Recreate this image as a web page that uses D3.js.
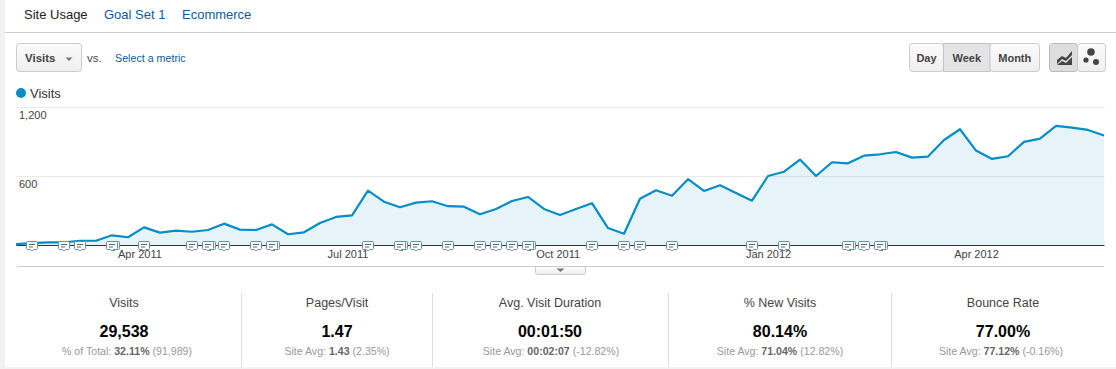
<!DOCTYPE html>
<html>
<head>
<meta charset="utf-8">
<script src="https://cdn.jsdelivr.net/npm/d3@7"></script>
<style>
  html, body { margin: 0; padding: 0; background: #fff; }
  svg { display: block; }
  text { font-family: "Liberation Sans", Arial, sans-serif; }
</style>
</head>
<body>
<div id="chart"></div>
<script>
"use strict";

const visits = [
  8, 17, 23, 23, 37, 37, 84, 67, 153, 107, 124, 115, 130, 185, 133, 130, 179,
  93, 110, 191, 243, 257, 471, 375, 327, 367, 379, 336, 332, 266, 312, 381, 416,
  312, 260, 312, 362, 147, 98, 401, 474, 427, 570, 468, 518, 451, 384, 598, 635,
  740, 598, 717, 708, 774, 786, 806, 757, 766, 910, 1003, 818, 746, 769, 893,
  922, 1032, 1017, 997, 948,
];

const firstWeek = "2011-02-06";
const yTicks = [600, 1200];
const xTickDates = ["2011-04-01", "2011-07-01", "2011-10-01", "2012-01-01", "2012-04-01"];

// weeks (index into visits) that have an annotation bubble
const noteWeeks = [1, 3, 4, 6, 8, 11, 12, 13, 15, 16, 22, 24, 25, 27, 29, 30, 31, 32, 36, 38, 39, 41, 46, 48, 52, 53, 54];
// these have a second note stacked behind
const stackedWeeks = [6, 12, 16, 24, 32, 52, 54];

const tabs = ["Site Usage", "Goal Set 1", "Ecommerce"];
const periods = ["Day", "Week", "Month"];

const metricNames = ["Visits", "Pages/Visit", "Avg. Visit Duration", "% New Visits", "Bounce Rate"];
const metricValues = ["29,538", "1.47", "00:01:50", "80.14%", "77.00%"];
const metricPrefix = ["% of Total: ", "Site Avg: ", "Site Avg: ", "Site Avg: ", "Site Avg: "];
const metricBold = ["32.11%", "1.43", "00:02:07", "71.04%", "77.12%"];
const metricSuffix = [" (91,989)", " (2.35%)", " (-12.82%)", " (12.82%)", " (-0.16%)"];

const width = 1116;
const height = 369;
const BLUE = "#058dc7";
const LINK = "#0b5d9e";

const svg = d3.select("#chart").append("svg").attr("width", width).attr("height", height);

const defs = svg.append("defs");
const grad = defs.append("linearGradient").attr("id", "btn").attr("x1", 0).attr("x2", 0).attr("y1", 0).attr("y2", 1);
grad.append("stop").attr("offset", "0%").attr("stop-color", "#fbfbfb");
grad.append("stop").attr("offset", "100%").attr("stop-color", "#efefef");

// page frame
svg.append("rect").attr("width", 5).attr("height", height).attr("fill", "#f2f2f2");
svg.append("rect").attr("x", 5).attr("y", 367).attr("width", width - 5).attr("height", 2).attr("fill", "#f2f2f2");
hline(5, width, 32.5, "#ccc");

function hline(x1, x2, y, color) {
  return svg.append("line").attr("x1", x1).attr("x2", x2).attr("y1", y).attr("y2", y).attr("stroke", color);
}

// tabs
const tabX = [24, 104, 182];
svg.selectAll(".tab").data(tabs).enter().append("text")
  .attr("class", "tab")
  .attr("x", (d, i) => tabX[i])
  .attr("y", 19)
  .attr("font-size", 13)
  .attr("fill", (d, i) => (i === 0 ? "#222" : LINK))
  .text((d) => d);

// metric dropdown
svg.append("rect").attr("x", 16.5).attr("y", 43.5).attr("width", 65).attr("height", 28).attr("rx", 3)
  .attr("fill", "url(#btn)").attr("stroke", "#ccc");
svg.append("text").attr("x", 25).attr("y", 62).attr("font-size", 11.5).attr("font-weight", "bold").attr("fill", "#444").text("Visits");
svg.append("path").attr("d", "M65.5,57.5h7l-3.5,3.5z").attr("fill", "#777");
svg.append("text").attr("x", 87).attr("y", 62).attr("font-size", 11.5).attr("fill", "#444").text("vs.");
svg.append("text").attr("x", 115).attr("y", 62).attr("font-size", 10.7).attr("fill", LINK).text("Select a metric");

// period buttons
const periodEdges = [909.5, 943.5, 990, 1039.5];
periods.forEach((p, i) => {
  const x0 = periodEdges[i];
  const x1 = periodEdges[i + 1];
  svg.append("rect").attr("x", x0).attr("y", 43.5).attr("width", x1 - x0).attr("height", 28)
    .attr("rx", i === 1 ? 0 : 3)
    .attr("fill", i === 1 ? "#e4e4e4" : "url(#btn)").attr("stroke", i === 1 ? "#c4c4c4" : "#ccc");
  svg.append("text").attr("x", (x0 + x1) / 2).attr("y", 62).attr("text-anchor", "middle")
    .attr("font-size", 11).attr("font-weight", "bold").attr("fill", "#444").text(p);
});

// chart type buttons
svg.append("rect").attr("x", 1049.5).attr("y", 43.5).attr("width", 28).attr("height", 28).attr("rx", 3)
  .attr("fill", "#dedede").attr("stroke", "#bbb");
svg.append("rect").attr("x", 1077.5).attr("y", 43.5).attr("width", 28).attr("height", 28).attr("rx", 3)
  .attr("fill", "url(#btn)").attr("stroke", "#ccc");
svg.append("path").attr("d", "M1057,60l5,-4l4,2l6,-7v4l-6,6l-4,-2l-5,5z").attr("fill", "#444");
svg.append("path").attr("d", "M1057,65l5,-4l4,2l6,-6v8h-15z").attr("fill", "#444");
svg.append("circle").attr("cx", 1091).attr("cy", 52).attr("r", 3.8).attr("fill", "#444");
svg.append("circle").attr("cx", 1086).attr("cy", 60).attr("r", 2.6).attr("fill", "#444");
svg.append("circle").attr("cx", 1096).attr("cy", 62).attr("r", 3).attr("fill", "#444");

// legend
svg.append("circle").attr("cx", 21).attr("cy", 93).attr("r", 5).attr("fill", BLUE);
svg.append("text").attr("x", 30).attr("y", 97.5).attr("font-size", 13).attr("fill", "#333").text("Visits");

// scales
const parseDay = d3.utcParse("%Y-%m-%d");
const start = parseDay(firstWeek);
const weeks = visits.map((v, i) => d3.utcDay.offset(start, i * 7));

const x = d3.scaleUtc().domain([weeks[0], weeks[weeks.length - 1]]).range([16, 1104]);
const y = d3.scaleLinear().domain([0, 1200]).range([245, 106.5]);

// gridlines and y labels
svg.append("g").selectAll("line").data(yTicks).enter().append("line")
  .attr("x1", 16).attr("x2", 1105)
  .attr("y1", (d) => Math.round(y(d)) + 0.5).attr("y2", (d) => Math.round(y(d)) + 0.5)
  .attr("stroke", "#eaeaea");
svg.append("g").selectAll("text").data(yTicks).enter().append("text")
  .attr("x", 19)
  .attr("y", (d) => y(d) + 12)
  .attr("font-size", 11)
  .attr("fill", "#444")
  .text(d3.format(","));

// area and line
const area = d3.area().x((d, i) => x(weeks[i])).y0(y(0)).y1((d) => y(d));
const line = d3.line().x((d, i) => x(weeks[i])).y((d) => y(d));

svg.append("path").datum(visits).attr("d", area).attr("fill", BLUE).attr("fill-opacity", 0.1);

// x axis
const xAxis = svg.append("g")
  .attr("transform", "translate(0,245)")
  .call(d3.axisBottom(x).tickValues(xTickDates.map(parseDay)).tickFormat(d3.utcFormat("%b %Y")).tickSize(0).tickPadding(5));
xAxis.select(".domain").attr("stroke", "#333");
xAxis.selectAll("text").attr("font-family", '"Liberation Sans", Arial, sans-serif').attr("font-size", 11).attr("fill", "#444");

svg.append("path").datum(visits).attr("d", line).attr("fill", "none").attr("stroke", BLUE)
  .attr("stroke-width", 2.2).attr("stroke-linejoin", "round");

// annotation bubbles
function drawNote(g) {
  g.append("path")
    .attr("d", "M-5.5,-3.5a1,1 0 0 1 1,-1h9a1,1 0 0 1 1,1v6a1,1 0 0 1 -1,1h-3l-1.5,1.5l-1.5,-1.5h-3a1,1 0 0 1 -1,-1z")
    .attr("fill", "#fff").attr("stroke", "#5f8db3");
  g.append("path").attr("d", "M-3,-1.5h6M-3,1h4").attr("stroke", "#666").attr("fill", "none");
}
const notes = svg.append("g");
stackedWeeks.forEach((w) => {
  const g = notes.append("g").attr("transform", `translate(${x(weeks[w]) + 2},246)`);
  drawNote(g);
});
noteWeeks.forEach((w) => {
  const g = notes.append("g").attr("transform", `translate(${x(weeks[w])},246)`);
  drawNote(g);
});

// bottom rule and collapse handle
hline(17, 1104, 266.5, "#ccc");
svg.append("path").attr("d", "M535.5,266.5v6a2,2 0 0 0 2,2h46a2,2 0 0 0 2,-2v-6z").attr("fill", "url(#btn)").attr("stroke", "#ccc");
svg.append("path").attr("d", "M556.5,268.5h8l-4,3.5z").attr("fill", "#777");

// metric row
const dividers = [241.5, 432.5, 668.5, 891.5];
const metricCenter = [124, 337, 550, 780, 1003];
const subCenter = [127, 337, 551, 780, 1001];
svg.append("g").selectAll("line").data(dividers).enter().append("line")
  .attr("x1", (d) => d).attr("x2", (d) => d).attr("y1", 293).attr("y2", 367).attr("stroke", "#ddd");

metricNames.forEach((name, i) => {
  const cx = metricCenter[i];
  svg.append("text").attr("x", cx).attr("y", 307).attr("text-anchor", "middle")
    .attr("font-size", 12.5).attr("fill", "#444").text(name);
  svg.append("text").attr("x", cx).attr("y", 337).attr("text-anchor", "middle")
    .attr("font-size", 16).attr("font-weight", "bold").attr("fill", "#000").text(metricValues[i]);
  const sub = svg.append("text").attr("x", subCenter[i]).attr("y", 355).attr("text-anchor", "middle")
    .attr("font-size", 10.6).attr("fill", "#999");
  sub.append("tspan").text(metricPrefix[i]);
  sub.append("tspan").attr("font-weight", "bold").attr("fill", "#666").text(metricBold[i]);
  sub.append("tspan").text(metricSuffix[i]);
});
</script>
</body>
</html>
